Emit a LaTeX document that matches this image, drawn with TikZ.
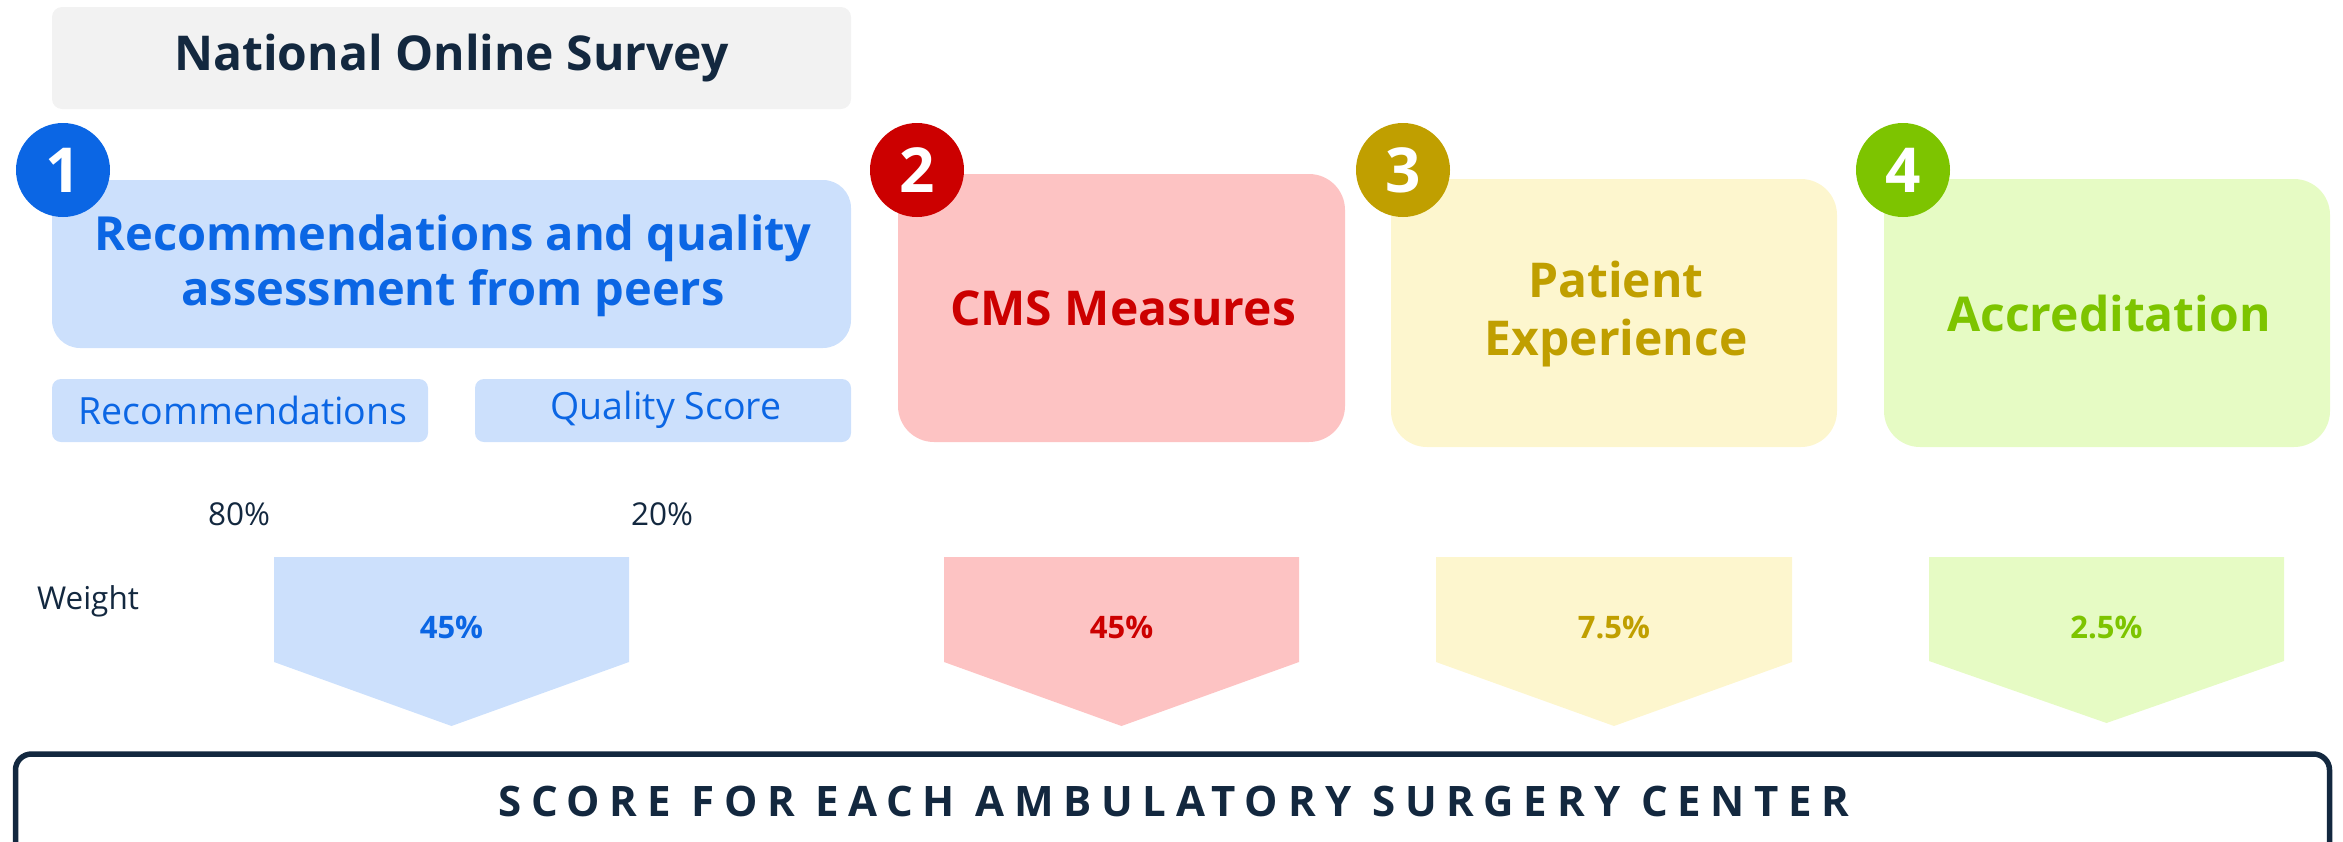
\documentclass[tikz,border=0pt]{standalone}
\usepackage{fontspec}
\setmainfont{Open Sans}
\definecolor{navy}{HTML}{13283F}
\definecolor{greybg}{HTML}{F2F2F2}
\definecolor{bluefill}{HTML}{CCE0FC}
\definecolor{bluetext}{HTML}{0B66E4}
\definecolor{redfill}{HTML}{FDC3C3}
\definecolor{redtext}{HTML}{CC0000}
\definecolor{yelfill}{HTML}{FDF6CE}
\definecolor{yeltext}{HTML}{C09F00}
\definecolor{grnfill}{HTML}{E6FBC4}
\definecolor{grntext}{HTML}{7DC400}
\tikzset{
  smallbox/.style={fill=bluefill, rounded corners=9pt},
  numcirc/.style={circle, minimum size=94pt, inner sep=0pt, text=white, font=\fontsize{62}{70}\bfseries\selectfont},
  headtext/.style={align=center, font=\fontsize{48}{58}\bfseries\selectfont},
  subtext/.style={text=bluetext, font=\fontsize{37.5}{42}\selectfont},
  pcttext/.style={text=navy, font=\fontsize{31.5}{36}\selectfont},
  wtext/.style={font=\fontsize{31}{36}\bfseries\selectfont},
}
\begin{document}
\begin{tikzpicture}[x=1pt,y=-1pt]
\useasboundingbox (0,0) rectangle (2343,841);
\clip (0,0) rectangle (2343,841);
% national online survey
\fill[greybg, rounded corners=10pt] (52,7) rectangle (851,109);
\node[text=navy, font=\fontsize{48}{55}\bfseries\selectfont] (nos) at (451.5,58) {National Online Survey};
% big boxes
\fill[bluefill, rounded corners=28pt] (52,180) rectangle (851,348);
\node[align=center, text=bluetext, font=\fontsize{47}{55}\bfseries\selectfont] (t1) at (453,266) {Recommendations and quality\\assessment from peers};
\fill[redfill, rounded corners=36pt] (898,174) rectangle (1345,442);
\node[headtext, text=redtext] (t2) at (1123,308) {CMS Measures};
\fill[yelfill, rounded corners=36pt] (1391,179) rectangle (1837,447);
\node[headtext, text=yeltext] (t3) at (1616,314) {Patient\\Experience};
\fill[grnfill, rounded corners=36pt] (1884,179) rectangle (2330,447);
\node[headtext, text=grntext] (t4) at (2109,313) {Accreditation};
% number circles
\node[numcirc, fill=bluetext] (c1) at (63,170) {1};
\node[numcirc, fill=redtext] (c2) at (917,170) {2};
\node[numcirc, fill=yeltext] (c3) at (1403,170) {3};
\node[numcirc, fill=grntext] (c4) at (1903,170) {4};
% sub boxes
\fill[smallbox] (52,379) rectangle (428,442);
\node[subtext] (rec) at (243,410) {Recommendations};
\fill[smallbox] (475,379) rectangle (851,442);
\node[subtext] (qs) at (666,410) {Quality Score};
% percentages
\node[pcttext] (p80) at (239,514) {80\%};
\node[pcttext] (p20) at (662,514) {20\%};
\node[pcttext] (wt) at (88,601) {Weight};
% chevrons
\fill[bluefill] (274,557) -- (629,557) -- (629,662) -- (451.5,726) -- (274,662) -- cycle;
\node[wtext, text=bluetext] (w1) at (451.5,627) {45\%};
\fill[redfill] (944,557) -- (1299,557) -- (1299,662) -- (1121.5,726) -- (944,662) -- cycle;
\node[wtext, text=redtext] (w2) at (1121.5,627) {45\%};
\fill[yelfill] (1436,557) -- (1792,557) -- (1792,662) -- (1614,726) -- (1436,662) -- cycle;
\node[wtext, text=yeltext] (w3) at (1614,627) {7.5\%};
\fill[grnfill] (1929,557) -- (2284,557) -- (2284,661) -- (2106.5,723) -- (1929,661) -- cycle;
\node[wtext, text=grntext] (w4) at (2106.5,627) {2.5\%};
% bottom score box
\draw[navy, line width=5.5pt, rounded corners=16pt] (15.5,900) -- (15.5,754) -- (2329.5,754) -- (2329.5,900);
\node[text=navy, font=\fontsize{42}{50}\bfseries\addfontfeature{LetterSpace=23}\selectfont] (score) at (1174,801) {SCORE FOR EACH AMBULATORY SURGERY CENTER};
\end{tikzpicture}
\end{document}
